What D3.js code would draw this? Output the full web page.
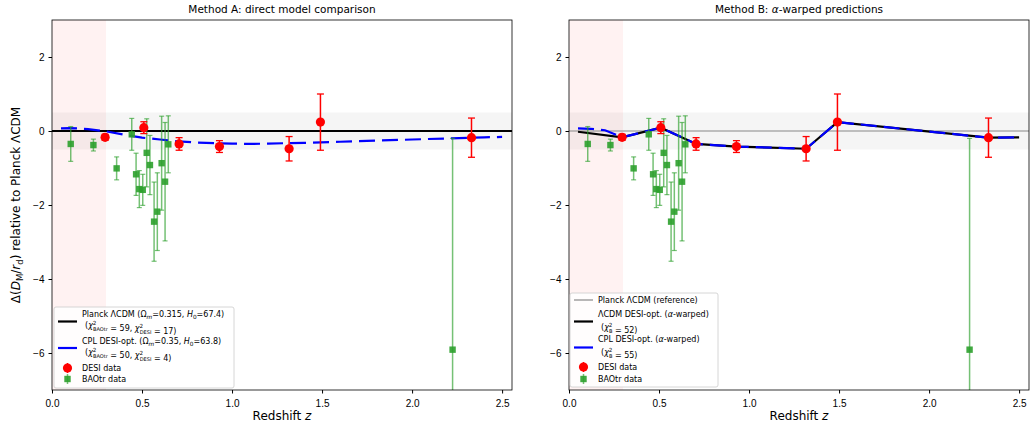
<!DOCTYPE html>
<html>
<head>
<meta charset="utf-8">
<script src="https://cdn.jsdelivr.net/npm/d3@7"></script>
<style>
  body { margin: 0; background: #fff; }
  svg { font-family: "DejaVu Sans", sans-serif; }
</style>
</head>
<body>
<svg id="chart" width="1034" height="433"></svg>
<script>
// DESI data points
var desiZ = [0.295, 0.51, 0.706, 0.93, 1.317, 1.491, 2.33];
var desiY = [-0.17, 0.09, -0.35, -0.42, -0.48, 0.24, -0.18];
var desiErr = [0.08, 0.16, 0.17, 0.16, 0.33, 0.76, 0.53];

// BAOtr data points
var baoZ = [0.104, 0.23, 0.359, 0.443, 0.467, 0.485, 0.504, 0.526, 0.544, 0.567, 0.585, 0.609, 0.628, 0.646, 2.225];
var baoY = [-0.35, -0.38, -1.01, -0.09, -1.17, -1.57, -1.59, -0.59, -0.92, -2.45, -2.18, -0.87, -1.37, -0.36, -5.91];
var baoErr = [0.47, 0.16, 0.31, 0.43, 0.57, 0.50, 0.42, 0.92, 0.80, 1.07, 1.05, 1.27, 1.60, 0.77, 5.71];

// method A: CPL model curve
var cplZ = [0.05, 0.1, 0.2, 0.3, 0.4, 0.5, 0.6, 0.7, 0.8, 0.9, 1.0, 1.1, 1.2, 1.4, 1.6, 1.8, 2.0, 2.2, 2.4, 2.5];
var cplY = [0.07, 0.08, 0.05, -0.01, -0.10, -0.18, -0.23, -0.28, -0.31, -0.33, -0.34, -0.35, -0.34, -0.32, -0.29, -0.26, -0.23, -0.20, -0.17, -0.16];

// method B: warped predictions
var lcdmWarpZ = [0.05, 0.295, 0.51, 0.706, 0.93, 1.317, 1.491, 2.33, 2.5];
var lcdmWarpY = [-0.02, -0.17, 0.09, -0.35, -0.42, -0.48, 0.24, -0.18, -0.17];
var cplWarpZ = [0.05, 0.12, 0.2, 0.295, 0.51, 0.706, 0.93, 1.317, 1.491, 2.33, 2.5];
var cplWarpY = [0.07, 0.06, 0.02, -0.17, 0.09, -0.35, -0.42, -0.48, 0.24, -0.18, -0.17];

var xTicks = [0, 0.5, 1.0, 1.5, 2.0, 2.5];
var yTicks = [2, 0, -2, -4, -6];

var svg = d3.select("#chart");
var W = 460, H = 370;
var x = d3.scaleLinear().domain([0, 2.555]).range([0, W]);
var y = d3.scaleLinear().domain([-7, 3]).range([H, 0]);

// write a run of mixed text pieces into a text element
function rich(textSel, parts) {
  parts.forEach(function(p) {
    var t = textSel.append("tspan").text(p.t);
    if (p.i) t.style("font-style", "italic");
    if (p.s) t.style("font-size", p.s + "px");
    if (p.dy) t.attr("dy", p.dy);
    if (p.dx) t.attr("dx", p.dx);
  });
}

function chi(sub, fs) {
  var small = fs * 0.7;
  return [
    {t: "χ", i: true},
    {t: "2", s: small, dy: -fs * 0.4},
    {t: sub, s: small * 0.9, dy: fs * 0.75, dx: -small * 0.62},
    {t: "", dy: -fs * 0.35}
  ];
}

function panel(left, showYLabel) {
  var g = svg.append("g").attr("transform", "translate(" + left + ",20)");
  var clipId = "clip" + left;
  g.append("clipPath").attr("id", clipId)
    .append("rect").attr("width", W).attr("height", H);
  var plot = g.append("g").attr("clip-path", "url(#" + clipId + ")");

  // low-z shaded area and +-0.5 band
  plot.append("rect")
    .attr("x", x(0)).attr("width", x(0.3) - x(0))
    .attr("y", 0).attr("height", H)
    .attr("fill", "#ff0000").attr("opacity", 0.05);
  plot.append("rect")
    .attr("x", 0).attr("width", W)
    .attr("y", y(0.5)).attr("height", y(-0.5) - y(0.5))
    .attr("fill", "#000").attr("opacity", 0.04);

  // axes
  g.append("g").attr("transform", "translate(0," + H + ")")
    .call(d3.axisBottom(x).tickValues(xTicks).tickFormat(d3.format(".1f")).tickSizeOuter(0).tickSize(3.5))
    .call(function(a) {
      a.selectAll("text").attr("font-size", 10).attr("dy", "1.05em").attr("fill", "#000");
      a.selectAll("line").attr("stroke", "#000");
      a.select(".domain").remove();
    });
  g.append("g")
    .call(d3.axisLeft(y).tickValues(yTicks).tickFormat(function(d) { return d < 0 ? "\u2212" + (-d) : d; }).tickSizeOuter(0).tickSize(3.5))
    .call(function(a) {
      a.selectAll("text").attr("font-size", 10).attr("fill", "#000").attr("dx", "-0.1em");
      a.selectAll("line").attr("stroke", "#000");
      a.select(".domain").remove();
    });

  g.append("rect").attr("width", W).attr("height", H)
    .attr("fill", "none").attr("stroke", "#000").attr("stroke-width", 0.8);

  var xl = g.append("text").attr("x", W / 2).attr("y", H + 30)
    .attr("text-anchor", "middle").attr("font-size", 12);
  rich(xl, [{t: "Redshift "}, {t: "z", i: true}]);

  if (showYLabel) {
    var yl = g.append("text")
      .attr("transform", "translate(-32," + (H / 2) + ") rotate(-90)")
      .attr("text-anchor", "middle").attr("font-size", 12);
    rich(yl, [
      {t: "Δ("}, {t: "D", i: true}, {t: "M", s: 8.5, dy: 3}, {t: "/", dy: -3},
      {t: "r", i: true}, {t: "d", s: 8.5, dy: 3}, {t: ") relative to Planck ΛCDM", dy: -3}
    ]);
  }
  return plot;
}

function drawData(plot) {
  // BAOtr
  var bao = plot.append("g");
  baoZ.forEach(function(z, i) {
    var cx = x(z), lo = y(baoY[i] - baoErr[i]), hi = y(baoY[i] + baoErr[i]);
    bao.append("line").attr("x1", cx).attr("x2", cx).attr("y1", lo).attr("y2", hi)
      .attr("stroke", "#2ca02c").attr("stroke-width", 1.5).attr("opacity", 0.65);
    [lo, hi].forEach(function(yy) {
      bao.append("line").attr("x1", cx - 2.5).attr("x2", cx + 2.5).attr("y1", yy).attr("y2", yy)
        .attr("stroke", "#2ca02c").attr("stroke-width", 1.2).attr("opacity", 0.65);
    });
    bao.append("rect").attr("x", cx - 3.2).attr("y", y(baoY[i]) - 3.2)
      .attr("width", 6.4).attr("height", 6.4).attr("fill", "#2ca02c").attr("opacity", 0.9);
  });
  // DESI
  var desi = plot.append("g");
  desiZ.forEach(function(z, i) {
    var cx = x(z), lo = y(desiY[i] - desiErr[i]), hi = y(desiY[i] + desiErr[i]);
    desi.append("line").attr("x1", cx).attr("x2", cx).attr("y1", lo).attr("y2", hi)
      .attr("stroke", "#ff0000").attr("stroke-width", 1.5);
    [lo, hi].forEach(function(yy) {
      desi.append("line").attr("x1", cx - 3.5).attr("x2", cx + 3.5).attr("y1", yy).attr("y2", yy)
        .attr("stroke", "#ff0000").attr("stroke-width", 1.3);
    });
    desi.append("circle").attr("cx", cx).attr("cy", y(desiY[i])).attr("r", 4.6).attr("fill", "#ff0000");
  });
}

function pathOf(zs, ys) {
  return d3.line().x(function(d) { return x(d); }).y(function(d, i) { return y(ys[i]); })(zs);
}

function legend(left, top, w, h, rows) {
  var lg = svg.append("g").attr("transform", "translate(" + left + "," + top + ")");
  lg.append("rect").attr("width", w).attr("height", h).attr("rx", 2)
    .attr("fill", "#fff").attr("fill-opacity", 0.8).attr("stroke", "#ccc").attr("stroke-width", 0.8);
  rows.forEach(function(r) {
    if (r.line) {
      lg.append("line").attr("x1", 4).attr("x2", 23).attr("y1", r.hy).attr("y2", r.hy)
        .attr("stroke", r.line).attr("stroke-width", r.lw);
    }
    if (r.mark === "circle") {
      lg.append("line").attr("x1", 13.5).attr("x2", 13.5).attr("y1", r.hy - 5).attr("y2", r.hy + 5)
        .attr("stroke", "#ff0000").attr("stroke-width", 1.5);
      lg.append("circle").attr("cx", 13.5).attr("cy", r.hy).attr("r", 4.6).attr("fill", "#ff0000");
    }
    if (r.mark === "square") {
      lg.append("line").attr("x1", 13.5).attr("x2", 13.5).attr("y1", r.hy - 5).attr("y2", r.hy + 5)
        .attr("stroke", "#2ca02c").attr("stroke-width", 1.5).attr("opacity", 0.65);
      lg.append("rect").attr("x", 10.3).attr("y", r.hy - 3.2).attr("width", 6.4).attr("height", 6.4)
        .attr("fill", "#2ca02c").attr("opacity", 0.9);
    }
    r.lines.forEach(function(parts, k) {
      var t = lg.append("text").attr("x", k === 0 ? 28 : 31).attr("y", r.ty + k * (r.gap || 11))
        .attr("font-size", 8);
      rich(t, parts);
    });
  });
}

// ---- Method A ----
var pA = panel(52, true);
pA.append("line").attr("x1", 0).attr("x2", W).attr("y1", y(0)).attr("y2", y(0))
  .attr("stroke", "#000").attr("stroke-width", 2.2);
pA.append("path").attr("d", pathOf(cplZ, cplY)).attr("fill", "none")
  .attr("stroke", "#0000ff").attr("stroke-width", 2.2).attr("stroke-dasharray", "16,7");
drawData(pA);

// ---- Method B ----
var pB = panel(569, false);
pB.append("line").attr("x1", 0).attr("x2", W).attr("y1", y(0)).attr("y2", y(0))
  .attr("stroke", "#888").attr("stroke-width", 1.2);
pB.append("path").attr("d", pathOf(lcdmWarpZ, lcdmWarpY)).attr("fill", "none")
  .attr("stroke", "#000").attr("stroke-width", 2.2);
pB.append("path").attr("d", pathOf(cplWarpZ, cplWarpY)).attr("fill", "none")
  .attr("stroke", "#0000ff").attr("stroke-width", 2.2).attr("stroke-dasharray", "16,7");
drawData(pB);

// titles
svg.append("text").attr("x", 52 + W / 2).attr("y", 13)
  .attr("text-anchor", "middle").attr("font-size", 10.5).text("Method A: direct model comparison");
var tB = svg.append("text").attr("x", 569 + W / 2).attr("y", 13)
  .attr("text-anchor", "middle").attr("font-size", 10.5);
rich(tB, [{t: "Method B: "}, {t: "α", i: true}, {t: "-warped predictions"}]);

// ---- legends ----
legend(54, 307, 180, 81, [
  {line: "#000", lw: 2.2, hy: 14.5, ty: 10, gap: 11, lines: [
    [{t: "Planck ΛCDM ("}, {t: "Ω"}, {t: "m", i: true, s: 5.8, dy: 2}, {t: "=0.315, ", dy: -2},
     {t: "H", i: true}, {t: "0", s: 5.8, dy: 2}, {t: "=67.4)", dy: -2}],
    [{t: "("}].concat(chi("BAOtr", 8), [{t: " = 59, "}], chi("DESI", 8), [{t: " = 17)"}])
  ]},
  {line: "#0000ff", lw: 2.2, hy: 41, ty: 37, gap: 11, lines: [
    [{t: "CPL DESI-opt. ("}, {t: "Ω"}, {t: "m", i: true, s: 5.8, dy: 2}, {t: "=0.35, ", dy: -2},
     {t: "H", i: true}, {t: "0", s: 5.8, dy: 2}, {t: "=63.8)", dy: -2}],
    [{t: "("}].concat(chi("BAOtr", 8), [{t: " = 50, "}], chi("DESI", 8), [{t: " = 4)"}])
  ]},
  {mark: "circle", hy: 61, ty: 64, lines: [[{t: "DESI data"}]]},
  {mark: "square", hy: 72, ty: 75, lines: [[{t: "BAOtr data"}]]}
]);

legend(570, 293, 148, 94, [
  {line: "#888", lw: 1.2, hy: 7, ty: 10, lines: [[{t: "Planck ΛCDM (reference)"}]]},
  {line: "#000", lw: 2.2, hy: 28.5, ty: 24, gap: 13, lines: [
    [{t: "ΛCDM DESI-opt. ("}, {t: "α", i: true}, {t: "-warped)"}],
    [{t: "("}].concat(chi("B", 8), [{t: " = 52)"}])
  ]},
  {line: "#0000ff", lw: 2.2, hy: 54.5, ty: 49, gap: 13, lines: [
    [{t: "CPL DESI-opt. ("}, {t: "α", i: true}, {t: "-warped)"}],
    [{t: "("}].concat(chi("B", 8), [{t: " = 55)"}])
  ]},
  {mark: "circle", hy: 74, ty: 77, lines: [[{t: "DESI data"}]]},
  {mark: "square", hy: 86, ty: 89, lines: [[{t: "BAOtr data"}]]}
]);
</script>
</body>
</html>
